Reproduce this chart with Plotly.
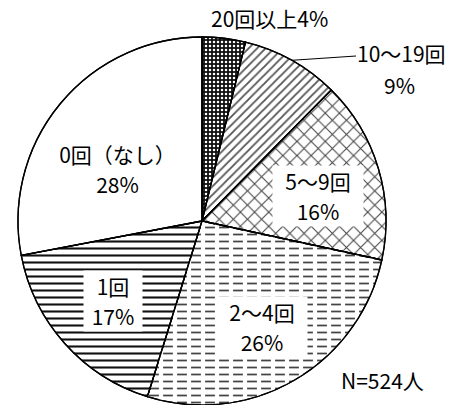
import math
import plotly.graph_objects as go

# ---- data ----
categories = ["20回以上", "10〜19回", "5〜9回", "2〜4回", "1回", "0回（なし）"]
shares = [3.8, 8.6, 16.0, 26.4, 17.2, 28.0]   # percent
total_n = 524

# ---- layout constants (pixels) ----
W, H = 467, 405
CX, CY, R = 202, 221, 184
FONT = "Noto Sans CJK JP, Noto Sans, sans-serif"
FS = 21

def px2paper(x, y):
    return x / W, 1 - y / H

pct_text = [f"{round(v)}%" for v in shares]

# patterns per slice
shapes_ = [".", "/", "x", "-", "-", ""]
fg = ["white", "#555555", "#444444", "#444444", "#111111", "black"]
bg = ["#111111", "white", "white", "white", "white", "white"]
sizes = [4, 6, 10, 7, 7, 8]
solid = [0.3, 0.3, 0.2, 0.25, 0.3, 0.3]

dx0, dy0 = px2paper(CX - R, CY - R)
dx1, dy1 = px2paper(CX + R, CY + R)

fig = go.Figure()
fig.add_trace(go.Pie(
    labels=categories, values=shares, sort=False, direction="clockwise",
    rotation=0, textinfo="none", hoverinfo="skip", showlegend=False,
    domain=dict(x=[dx0, dx1], y=[dy1, dy0]),
    marker=dict(colors=bg, line=dict(color="black", width=1.3),
                pattern=dict(shape=shapes_, fgcolor=fg, bgcolor=bg,
                             size=sizes, solidity=solid, fillmode="replace")),
))
# overlay: white vertical gaps turning the 2〜4回 lines into dashes
gap_shape = ["", "", "", "|", "", ""]
fig.add_trace(go.Pie(
    labels=categories, values=shares, sort=False, direction="clockwise",
    rotation=0, textinfo="none", hoverinfo="skip", showlegend=False,
    domain=dict(x=[dx0, dx1], y=[dy1, dy0]),
    marker=dict(colors=["rgba(0,0,0,0)"] * 6,
                line=dict(color="black", width=1.3),
                pattern=dict(shape=gap_shape, fgcolor="white",
                             bgcolor="rgba(0,0,0,0)", size=14, solidity=0.3,
                             fillmode="replace")),
))

annos = []

def label(text, x, y, width=None, box=True):
    ax, ay = px2paper(x, y)
    d = dict(text=text, x=ax, y=ay, xref="paper", yref="paper",
             xanchor="center", yanchor="middle", showarrow=False,
             font=dict(family=FONT, size=FS, color="black"))
    if box:
        d.update(bgcolor="white", borderpad=0, height=30)
        if width:
            d["width"] = width
    annos.append(d)

# inside labels (name line, percent line)
inside = {
    5: (117, 154, 115),
    2: (318, 181, 90),
    4: (113, 286, 58),
    3: (262, 312, 90),
}
for i, (x, y, w) in inside.items():
    label(categories[i], x, y, w)
    label(pct_text[i], x, y + 30, w)

# outside labels
label(categories[0] + pct_text[0], 269, 18, box=False)

# 10〜19回 with leader line to the slice's mid angle
start = sum(shares[:1])
mid = (start + shares[1] / 2) / 100 * 2 * math.pi
tipx, tipy = CX + R * math.sin(mid), CY - R * math.cos(mid)
tx, ty = px2paper(tipx, tipy)
annos.append(dict(text=categories[1], x=tx, y=ty, xref="paper", yref="paper",
                  showarrow=True, arrowhead=0, arrowwidth=1, arrowcolor="black",
                  ax=401 - tipx, ay=53 - tipy, standoff=0,
                  font=dict(family=FONT, size=FS, color="black"),
                  bgcolor="white", borderpad=0))
label(pct_text[1], 399, 85, box=False)

label(f"N={total_n}人", 382, 380, box=False)

fig.update_layout(
    width=W, height=H, margin=dict(l=0, r=0, t=0, b=0),
    paper_bgcolor="white", plot_bgcolor="white",
    annotations=annos,
)

fig.write_html("out.html")
